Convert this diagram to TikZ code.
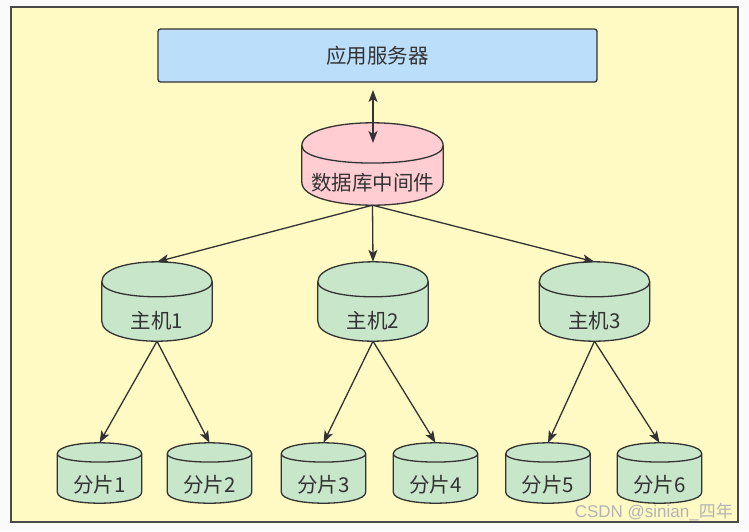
\documentclass[tikz,border=0pt]{standalone}
\usepackage{fontspec}
\setmainfont{Noto Sans CJK SC}
\newfontfamily\wmfont{Liberation Sans}
\newfontfamily\wmcjk{Noto Sans CJK SC}
\usetikzlibrary{calc,arrows.meta}
\definecolor{outerc}{HTML}{FAFAFA}
\definecolor{bgy}{HTML}{FFF9C4}
\definecolor{framec}{HTML}{4A4A4A}
\definecolor{linec}{HTML}{333333}
\definecolor{boxblue}{HTML}{BBDEFB}
\definecolor{cylpink}{HTML}{FFCDD2}
\definecolor{cylgreen}{HTML}{C8E6C9}
\definecolor{txtc}{HTML}{333333}
\definecolor{wmc}{HTML}{B4B4B4}
\newcommand{\cylshape}[3]{%
  \draw[cylline,fill=#3] let \p1=(#1.north west), \p2=(#1.south east) in
    (\x1,\y1-#2) .. controls (\x1,\y1+#2/3) and (\x2,\y1+#2/3) .. (\x2,\y1-#2)
    -- (\x2,\y2+#2) .. controls (\x2,\y2-#2/3) and (\x1,\y2-#2/3) .. (\x1,\y2+#2) -- cycle;
  \draw[cylline] let \p1=(#1.north west), \p2=(#1.south east) in
    (\x1,\y1-#2) .. controls (\x1,\y1-2*#2) and (\x2,\y1-2*#2) .. (\x2,\y1-#2);
}
\tikzset{
  cylline/.style={draw=linec, line width=1.3pt},
  mwbox/.style={rectangle, draw=none, inner sep=0pt, minimum width=141pt, minimum height=82pt},
  hostbox/.style={rectangle, draw=none, inner sep=0pt, minimum width=110pt, minimum height=79pt},
  shardbox/.style={rectangle, draw=none, inner sep=0pt, minimum width=84pt, minimum height=60pt},
  lbl/.style={text=txtc, inner sep=0pt, font=\fontsize{20.5}{24}\selectfont},
  arr/.style={draw=linec, line width=1.3pt, -{Stealth[length=12pt,width=9pt,inset=3pt]}},
  darr/.style={draw=linec, line width=1.3pt, {Stealth[length=12pt,width=9pt,inset=3pt]}-{Stealth[length=12pt,width=9pt,inset=3pt]}},
  appbox/.style={rectangle, draw=linec, line width=1.3pt, fill=boxblue, rounded corners=2.5pt,
     minimum width=439pt, minimum height=53pt, inner sep=0pt, text=txtc, font=\fontsize{20.5}{24}\selectfont},
}
\begin{document}
\begin{tikzpicture}[x=1pt,y=-1pt]
\useasboundingbox (0,0) rectangle (749,531);
\fill[outerc] (0,0) rectangle (749,531);
\draw[framec, line width=2pt, fill=bgy] (11,7) rectangle (738,522);

% app server
\node[appbox] (app) at (377.5,55.5) {应用服务器};

% middleware
\node[mwbox] (mw) at (372.5,164) {};
\cylshape{mw}{23pt}{cylpink}
\node[lbl] (mwt) at (372.5,183) {数据库中间件};

% hosts
\node[hostbox] (h1) at (157,301.5) {};
\node[hostbox] (h2) at (373,301.5) {};
\node[hostbox] (h3) at (594.5,301.5) {};
\cylshape{h1}{20pt}{cylgreen}
\cylshape{h2}{20pt}{cylgreen}
\cylshape{h3}{20pt}{cylgreen}
\node[lbl] (h1t) at (157,321) {主机1};
\node[lbl] (h2t) at (373,321) {主机2};
\node[lbl] (h3t) at (594.5,321) {主机3};

% shards
\node[shardbox] (s1) at (99.5,473) {};
\node[shardbox] (s2) at (209.5,473) {};
\node[shardbox] (s3) at (323.5,473) {};
\node[shardbox] (s4) at (435.5,473) {};
\node[shardbox] (s5) at (548,473) {};
\node[shardbox] (s6) at (659.5,473) {};
\foreach \s in {s1,s2,s3,s4,s5,s6}{\cylshape{\s}{11pt}{cylgreen}}
\node[lbl] (s1t) at (99.5,485) {分片1};
\node[lbl] (s2t) at (209.5,485) {分片2};
\node[lbl] (s3t) at (323.5,485) {分片3};
\node[lbl] (s4t) at (435.5,485) {分片4};
\node[lbl] (s5t) at (548,485) {分片5};
\node[lbl] (s6t) at (659.5,485) {分片6};

% connectors
\coordinate (append) at (373,90);
\coordinate (mwend) at (373,143);
\draw[darr] (append) -- (mwend);
\draw[arr] (mw.south) -- (h1.north);
\draw[arr] (mw.south) -- (h2.north);
\draw[arr] (mw.south) -- (h3.north);
\draw[arr] (h1.south) -- (s1.north);
\draw[arr] (h1.south) -- (s2.north);
\draw[arr] (h2.south) -- (s3.north);
\draw[arr] (h2.south) -- (s4.north);
\draw[arr] (h3.south) -- (s5.north);
\draw[arr] (h3.south) -- (s6.north);

% watermark
\node[anchor=east, text=wmc, inner sep=0pt, font=\fontsize{17}{20}\selectfont] (wm) at (733,512) {\wmfont CSDN @sinian\_\wmcjk 四年};
\end{tikzpicture}
\end{document}
